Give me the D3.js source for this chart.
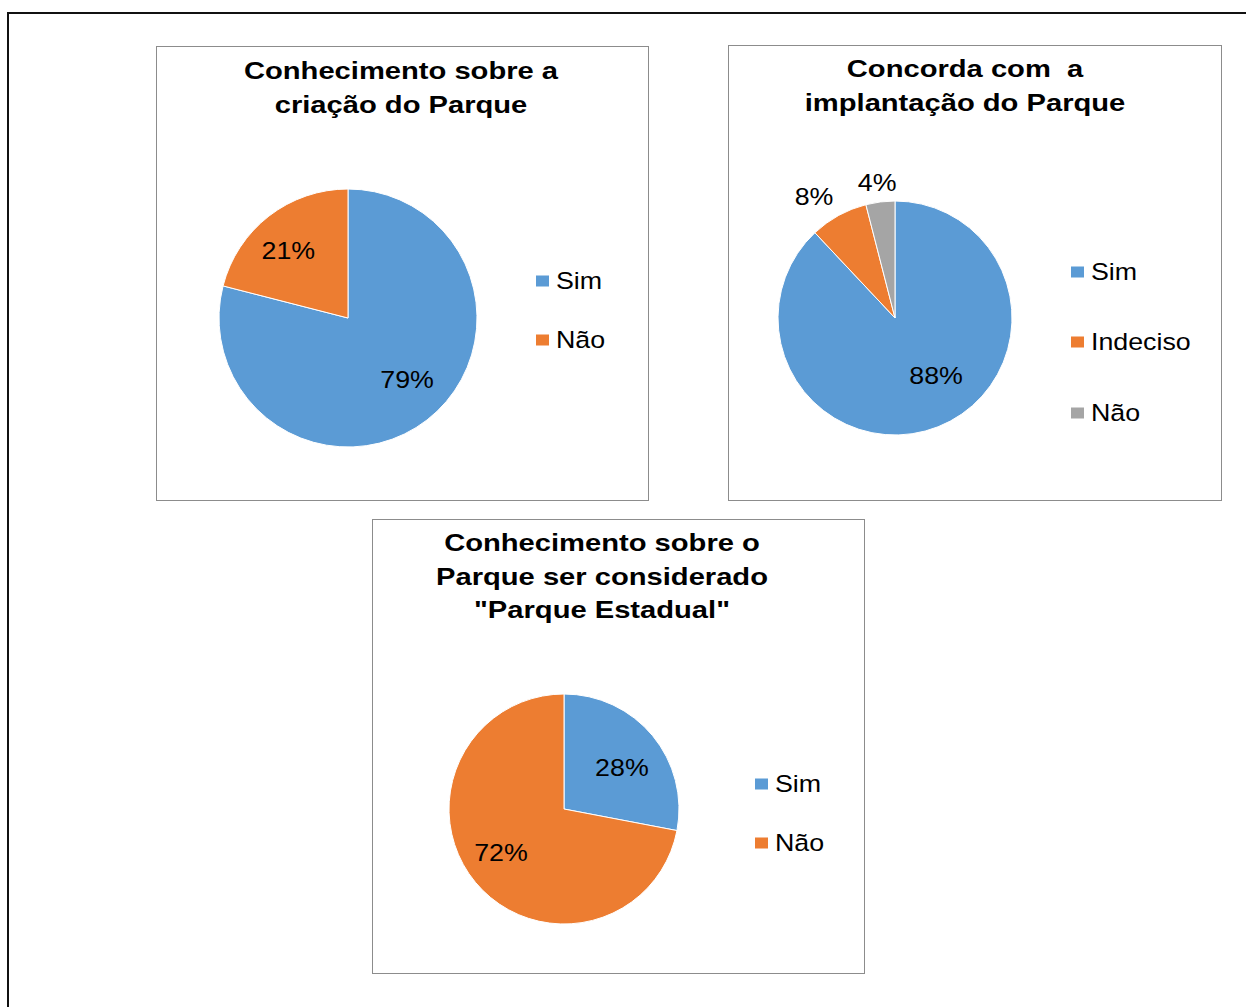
<!DOCTYPE html>
<html><head><meta charset="utf-8">
<script src="https://cdn.jsdelivr.net/npm/d3@7"></script>
<style>body{margin:0;background:#fff}svg{display:block}</style>
</head><body>
<script>
// Data
const chart1Title = ["Conhecimento sobre a", "criação do Parque"];
const chart1Categories = ["Sim", "Não"];
const chart1Values = [79, 21];

const chart2Title = ["Concorda com  a", "implantação do Parque"];
const chart2Categories = ["Sim", "Indeciso", "Não"];
const chart2Values = [88, 8, 4];

const chart3Title = ["Conhecimento sobre o", "Parque ser considerado", "\"Parque Estadual\""];
const chart3Categories = ["Sim", "Não"];
const chart3Values = [28, 72];

const palette = ["#5B9BD5", "#ED7D31", "#A5A5A5"];

const W = 1246, H = 1007;
const svg = d3.select("body").append("svg").attr("width", W).attr("height", H);

// outer frame
svg.append("path").attr("d", `M8,${H+5} L8,13 L${W+5},13`).attr("fill","none").attr("stroke","#111").attr("stroke-width",2);

const FONT = "Liberation Sans, Arial, sans-serif";
const SX = 1.17; // horizontal stretch of the original image

function stretchedText(parent, x, y, txt, opts) {
  const t = parent.append("g").attr("transform", `translate(${x},${y}) scale(${opts.sx||SX},1)`)
    .append("text").attr("x",0).attr("y",0)
    .attr("text-anchor", opts.anchor||"start")
    .attr("font-family",FONT).attr("font-size",opts.size)
    .attr("font-weight",opts.weight||"normal").attr("fill","#000")
    .attr("dy", opts.dy||0)
    .style("white-space","pre")
    .text(txt);
  return t;
}

function drawChart(cfg) {
  const g = svg.append("g");
  g.append("rect").attr("x", cfg.box[0]+0.5).attr("y", cfg.box[1]+0.5)
    .attr("width", cfg.box[2]).attr("height", cfg.box[3])
    .attr("fill","#fff").attr("stroke","#8c8c8c").attr("stroke-width",1);
  // title
  cfg.title.forEach((line,i)=>{
    stretchedText(g, cfg.titleX, cfg.titleY + i*33.5, line, {anchor:"middle", size:24.5, weight:"bold", sx:1.19});
  });

  const color = d3.scaleOrdinal().domain(cfg.categories).range(palette);
  const pie = d3.pie().sort(null).value(d=>d.v);
  const data = cfg.categories.map((c,i)=>({c, v: cfg.values[i]}));
  const arcs = pie(data);
  const arc = d3.arc().innerRadius(0).outerRadius(cfg.r);
  const pg = g.append("g").attr("transform", `translate(${cfg.cx},${cfg.cy})`);
  pg.selectAll("path").data(arcs).join("path").attr("d", arc)
    .attr("fill", d=>color(d.data.c)).attr("stroke","#fff").attr("stroke-width",1);
  arcs.forEach((d,i)=>{
    const mid = (d.startAngle + d.endAngle)/2 + cfg.labelOff[i]*Math.PI/180;
    const [px,py] = d3.pointRadial(mid, cfg.r*cfg.labelR[i]);
    stretchedText(pg, px, py, d.data.v+"%", {anchor:"middle", size:23.5, dy:"0.36em", sx:1.14});
  });

  // legend
  cfg.categories.forEach((c,i)=>{
    g.append("rect").attr("x",cfg.legX).attr("y",cfg.legY[i]-5.5).attr("width",13).attr("height",11).attr("fill",color(c));
    stretchedText(g, cfg.legX+20, cfg.legY[i], c, {size:23.5, dy:"0.36em", sx:1.14});
  });
}

drawChart({box:[156,46,492,454], title: chart1Title, titleX:401, titleY:79,
  categories: chart1Categories, values: chart1Values, cx:348, cy:318, r:129,
  labelR:[0.664,0.70], labelOff:[-5.8,-3.6], legX:536, legY:[281,340]});
drawChart({box:[728,45,493,455], title: chart2Title, titleX:965, titleY:77,
  categories: chart2Categories, values: chart2Values, cx:895, cy:318, r:117,
  labelR:[0.607,1.25,1.17], labelOff:[-13.7,-4.8,-0.3], legX:1071, legY:[272,342,413]});
drawChart({box:[372,519,492,454], title: chart3Title, titleX:602, titleY:551,
  categories: chart3Categories, values: chart3Values, cx:564, cy:809, r:115,
  labelR:[0.617,0.668], labelOff:[4.3,4.7], legX:755, legY:[784,843]});
</script>
</body></html>
